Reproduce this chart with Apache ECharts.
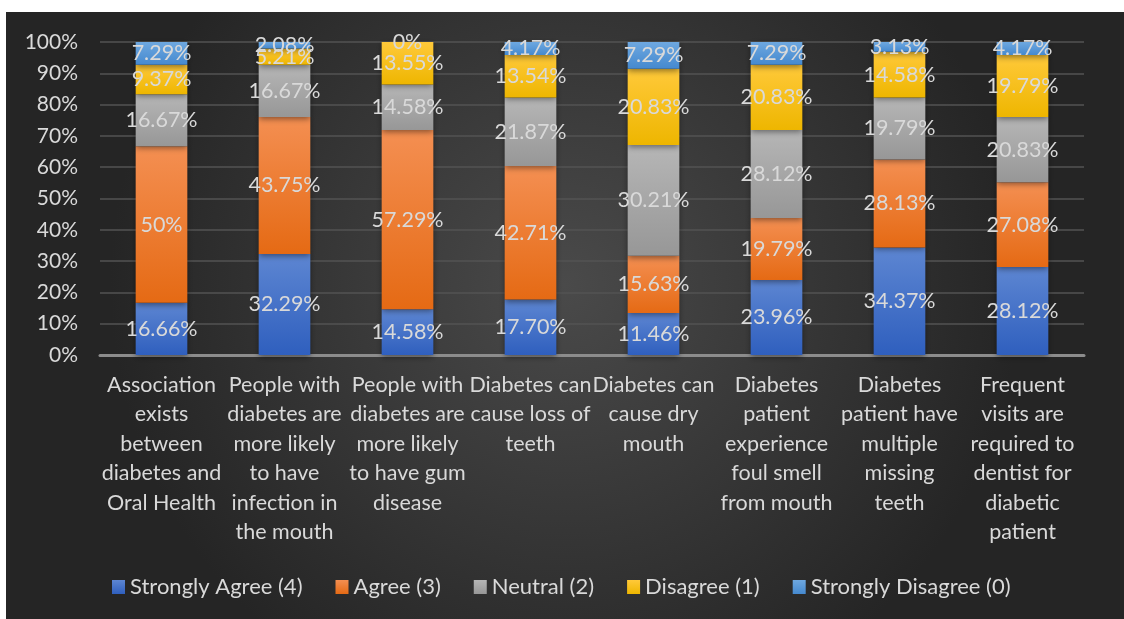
<!DOCTYPE html>
<html>
<head>
<meta charset="utf-8">
<script src="https://cdn.jsdelivr.net/npm/echarts@6/dist/echarts.min.js"></script>
<style>
  html, body { margin: 0; padding: 0; background: #ffffff; width: 1124px; height: 619px; overflow: hidden; }
  #chart { position: absolute; left: 6px; top: 12px; width: 1118px; height: 607px; }
</style>
</head>
<body>
<div id="chart"></div>
<script>
// Survey statements (x-axis categories)
const categories = [
  'Association\nexists\nbetween\ndiabetes and\nOral Health',
  'People with\ndiabetes are\nmore likely\nto have\ninfection in\nthe mouth',
  'People with\ndiabetes are\nmore likely\nto have gum\ndisease',
  'Diabetes can\ncause loss of\nteeth',
  'Diabetes can\ncause dry\nmouth',
  'Diabetes\npatient\nexperience\nfoul smell\nfrom mouth',
  'Diabetes\npatient have\nmultiple\nmissing\nteeth',
  'Frequent\nvisits are\nrequired to\ndentist for\ndiabetic\npatient'
];

// Response shares (%) per statement
const stronglyAgree    = [16.66, 32.29, 14.58, 17.70, 11.46, 23.96, 34.37, 28.12];
const agree            = [50,    43.75, 57.29, 42.71, 15.63, 19.79, 28.13, 27.08];
const neutral          = [16.67, 16.67, 14.58, 21.87, 30.21, 28.12, 19.79, 20.83];
const disagree         = [9.37,  5.21,  13.55, 13.54, 20.83, 20.83, 14.58, 19.79];
const stronglyDisagree = [7.29,  2.08,  0,     4.17,  7.29,  7.29,  3.13,  4.17];

const yTicks = ['0%', '10%', '20%', '30%', '40%', '50%', '60%', '70%', '80%', '90%', '100%'];

const seriesDefs = [
  { name: 'Strongly Agree (4)',    values: stronglyAgree,    top: '#5d86d2', bottom: '#2f5fbe' },
  { name: 'Agree (3)',             values: agree,            top: '#f48f52', bottom: '#e56a14' },
  { name: 'Neutral (2)',           values: neutral,          top: '#b6b6b6', bottom: '#979797' },
  { name: 'Disagree (1)',          values: disagree,         top: '#ffc93a', bottom: '#eeb600' },
  { name: 'Strongly Disagree (0)', values: stronglyDisagree, top: '#6ea8e0', bottom: '#4589cf' }
];

// 100% stacking: each segment is its share of the column total
const totals = categories.map((_, i) => seriesDefs.reduce((s, d) => s + d.values[i], 0));

const FONT = 'Lato, "Noto Sans", sans-serif';
const TEXT = '#d9d9d9';

function fmt(v) {
  return (Number.isInteger(v) ? String(v) : v.toFixed(2)) + '%';
}

const series = seriesDefs.map(d => ({
  name: d.name,
  type: 'bar',
  stack: 'total',
  barWidth: '42%',
  data: d.values.map((v, i) => ({ value: v / totals[i] * 100, raw: v })),
  itemStyle: {
    color: new echarts.graphic.LinearGradient(0, 0, 0, 1, [
      { offset: 0, color: d.top },
      { offset: 1, color: d.bottom }
    ]),
    shadowColor: 'rgba(0,0,0,0.45)',
    shadowBlur: 6,
    shadowOffsetY: 2
  },
  label: {
    show: true,
    position: 'inside',
    color: TEXT,
    fontFamily: FONT,
    fontSize: 21.5,
    formatter: p => fmt(p.data.raw)
  },
  emphasis: { disabled: true }
}));

const chart = echarts.init(document.getElementById('chart'), null, { renderer: 'canvas' });
chart.setOption({
  animation: false,
  backgroundColor: new echarts.graphic.RadialGradient(0.5, 0.45, 0.75, [
    { offset: 0, color: '#4a4a4a' },
    { offset: 1, color: '#252525' }
  ]),
  textStyle: { fontFamily: FONT },
  grid: { left: 94, right: 40, top: 30, bottom: 264 },
  legend: {
    bottom: 16,
    left: 101,
    itemWidth: 13,
    itemHeight: 14,
    itemGap: 33,
    icon: 'rect',
    textStyle: { color: TEXT, fontSize: 22, fontFamily: FONT },
    data: seriesDefs.map(d => d.name)
  },
  xAxis: {
    type: 'category',
    data: categories,
    axisTick: { show: false },
    axisLine: { lineStyle: { color: '#8c8c8c', width: 3 } },
    axisLabel: {
      interval: 0,
      color: TEXT,
      fontSize: 21.5,
      fontFamily: FONT,
      lineHeight: 29.5,
      margin: 15,
      align: 'center',
      verticalAlign: 'top'
    }
  },
  yAxis: {
    type: 'value',
    min: 0,
    max: 100,
    interval: 10,
    axisLine: { show: false },
    axisTick: { show: false },
    splitLine: { lineStyle: { color: '#535353', width: 1.5 } },
    axisLabel: {
      color: TEXT,
      fontSize: 21,
      fontFamily: FONT,
      margin: 22,
      formatter: v => yTicks[Math.round(v / 10)]
    }
  },
  series: series
});
</script>
</body>
</html>
